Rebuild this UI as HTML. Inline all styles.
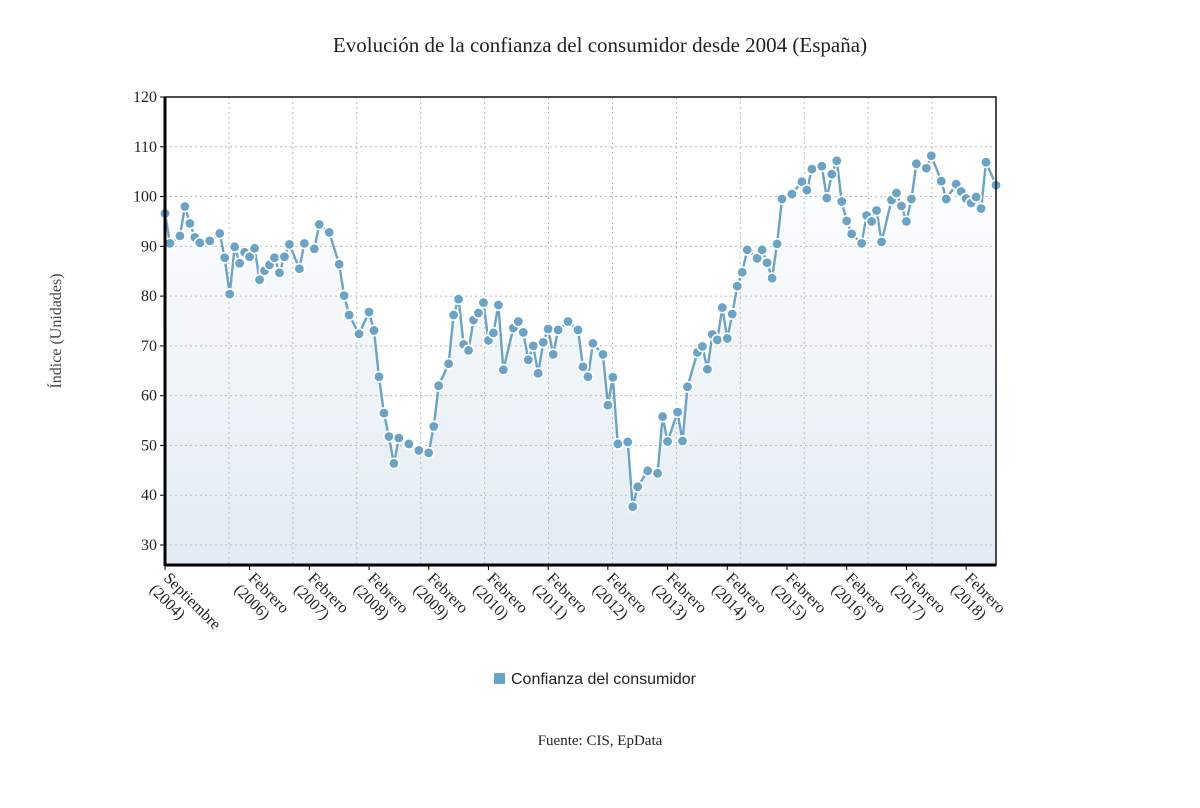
<!DOCTYPE html>
<html><head><meta charset="utf-8"><style>
html,body{margin:0;padding:0;background:#fff;}
svg{display:block;font-family:"Liberation Serif",serif;}
</style></head><body>
<svg id="chart" width="1200" height="808" viewBox="0 0 1200 808">
<defs><linearGradient id="fillg" x1="0" y1="0" x2="0" y2="1"><stop offset="0" stop-color="#ffffff"/><stop offset="1" stop-color="#e2ebf3"/></linearGradient></defs>
<text x="600" y="52" text-anchor="middle" font-size="21" fill="#222">Evolución de la confianza del consumidor desde 2004 (España)</text>
<text transform="translate(61,331) rotate(-90)" text-anchor="middle" font-size="16" fill="#444">Índice (Unidades)</text>
<g id="grid"></g><g id="series"></g><g id="axes"></g>
<g>
<rect x="494" y="673" width="11" height="11" fill="#6ba3c6"/>
<text x="511" y="684" font-family="Liberation Sans, sans-serif" font-size="16" fill="#222">Confianza del consumidor</text>
</g>
<text x="600" y="745" text-anchor="middle" font-size="15" fill="#222">Fuente: CIS, EpData</text>
</svg>
<script>
const values = [96.6,90.6,null,92.1,98.0,94.6,91.8,90.7,null,91.1,null,92.6,87.7,80.4,89.9,86.6,88.8,87.9,89.6,83.3,
85.1,86.3,87.7,84.7,87.9,90.4,null,85.5,90.6,null,89.5,94.4,null,92.8,null,86.4,80.1,76.2,null,72.4,
null,76.8,73.1,63.8,56.5,51.8,46.4,51.5,null,50.3,null,49.0,null,48.5,53.8,62.0,null,66.4,76.2,79.4,
70.3,69.1,75.2,76.6,78.7,71.1,72.6,78.2,65.2,null,73.6,74.9,72.7,67.2,70.0,64.5,70.7,73.4,68.3,73.2,
null,74.9,null,73.2,65.8,63.8,70.5,null,68.3,58.1,63.7,50.3,null,50.7,37.7,41.7,null,44.9,null,44.4,
55.8,50.8,null,56.7,50.9,61.8,null,68.7,69.9,65.3,72.3,71.2,77.7,71.5,76.4,82.0,84.8,89.3,null,87.6,
89.3,86.7,83.6,90.5,99.5,null,100.5,null,103.0,101.3,105.5,null,106.1,99.7,104.5,107.2,99.0,95.1,92.5,null,
90.6,96.2,95.0,97.2,90.9,null,99.3,100.7,98.1,95.0,99.5,106.6,null,105.7,108.2,null,103.1,99.5,null,102.5,
101.0,99.6,98.7,99.9,97.6,106.9,null,102.3];
const yTicks = [30,40,50,60,70,80,90,100,110,120];
const xTickIdx = [0,17,29,41,53,65,77,89,101,113,125,137,149,161];
const xTickLabels = [["Septiembre","(2004)"],["Febrero","(2006)"],["Febrero","(2007)"],["Febrero","(2008)"],["Febrero","(2009)"],["Febrero","(2010)"],["Febrero","(2011)"],["Febrero","(2012)"],["Febrero","(2013)"],["Febrero","(2014)"],["Febrero","(2015)"],["Febrero","(2016)"],["Febrero","(2017)"],["Febrero","(2018)"]];

const NS="http://www.w3.org/2000/svg";
const L=165,R=996,T=97,B=565;
const n=values.length;
const xs=i=>L+i*(R-L)/(n-1);
const ys=v=>545-(v-30)*(448/90);
function mk(tag,attrs,parent){const e=document.createElementNS(NS,tag);for(const k in attrs)e.setAttribute(k,attrs[k]);parent.appendChild(e);return e;}
const grid=document.getElementById('grid'),ser=document.getElementById('series'),ax=document.getElementById('axes');
mk('rect',{x:L,y:T,width:R-L,height:B-T,fill:'#fff'},grid);
const pts=[];values.forEach((v,i)=>{if(v!==null)pts.push([xs(i),ys(v)]);});
const area=mk('path',{d:'M'+pts[0][0]+','+B+' '+pts.map(p=>'L'+p[0].toFixed(1)+','+p[1].toFixed(1)).join(' ')+' L'+pts[pts.length-1][0]+','+B+'Z',fill:'url(#fillg)'},grid);


for(let k=1;k<13;k++){const x=L+k*(R-L)/13;const g=mk('line',{x1:x,x2:x,y1:T,y2:B,stroke:'#bbb','stroke-dasharray':'2,3'},grid);

}
yTicks.forEach(t=>{const y=ys(t);if(t<120){const g=mk('line',{x1:L,x2:R,y1:y,y2:y,stroke:'#bbb','stroke-dasharray':'2,3'},grid);

}
mk('line',{x1:L-5,x2:L,y1:y,y2:y,stroke:'#000'},ax);
const tx=mk('text',{x:L-8,y:y+5,'text-anchor':'end','font-size':16,fill:'#222'},ax);tx.textContent=t;

});
const line=mk('path',{d:pts.map((p,i)=>(i?'L':'M')+p[0].toFixed(1)+','+p[1].toFixed(1)).join(' '),fill:'none',stroke:'#6ba3c6','stroke-width':2.4},ser);


values.forEach((v,i)=>{if(v===null)return;const c=mk('circle',{cx:xs(i),cy:ys(v),r:5.2,fill:'#6ba3c6',stroke:'#fff','stroke-width':1.6},ser);

});
mk('rect',{x:L,y:T,width:R-L,height:B-T,fill:'none',stroke:'#111','stroke-width':1.5},ax);
mk('line',{x1:L,x2:L,y1:T,y2:B+1,stroke:'#000','stroke-width':3},ax);
mk('line',{x1:L,x2:R,y1:B,y2:B,stroke:'#000','stroke-width':3},ax);
xTickIdx.forEach((idx,k)=>{const x=xs(idx);mk('line',{x1:x,x2:x,y1:B,y2:B+5,stroke:'#000'},ax);
const t=mk('text',{transform:`translate(${x-2},${B+14}) rotate(45)`,'font-size':16,fill:'#222'},ax);


const a=mk('tspan',{x:0,dy:0},t);a.textContent=xTickLabels[k][0];
const b=mk('tspan',{x:-2,dy:18},t);b.textContent=xTickLabels[k][1];});
</script>
</body></html>
